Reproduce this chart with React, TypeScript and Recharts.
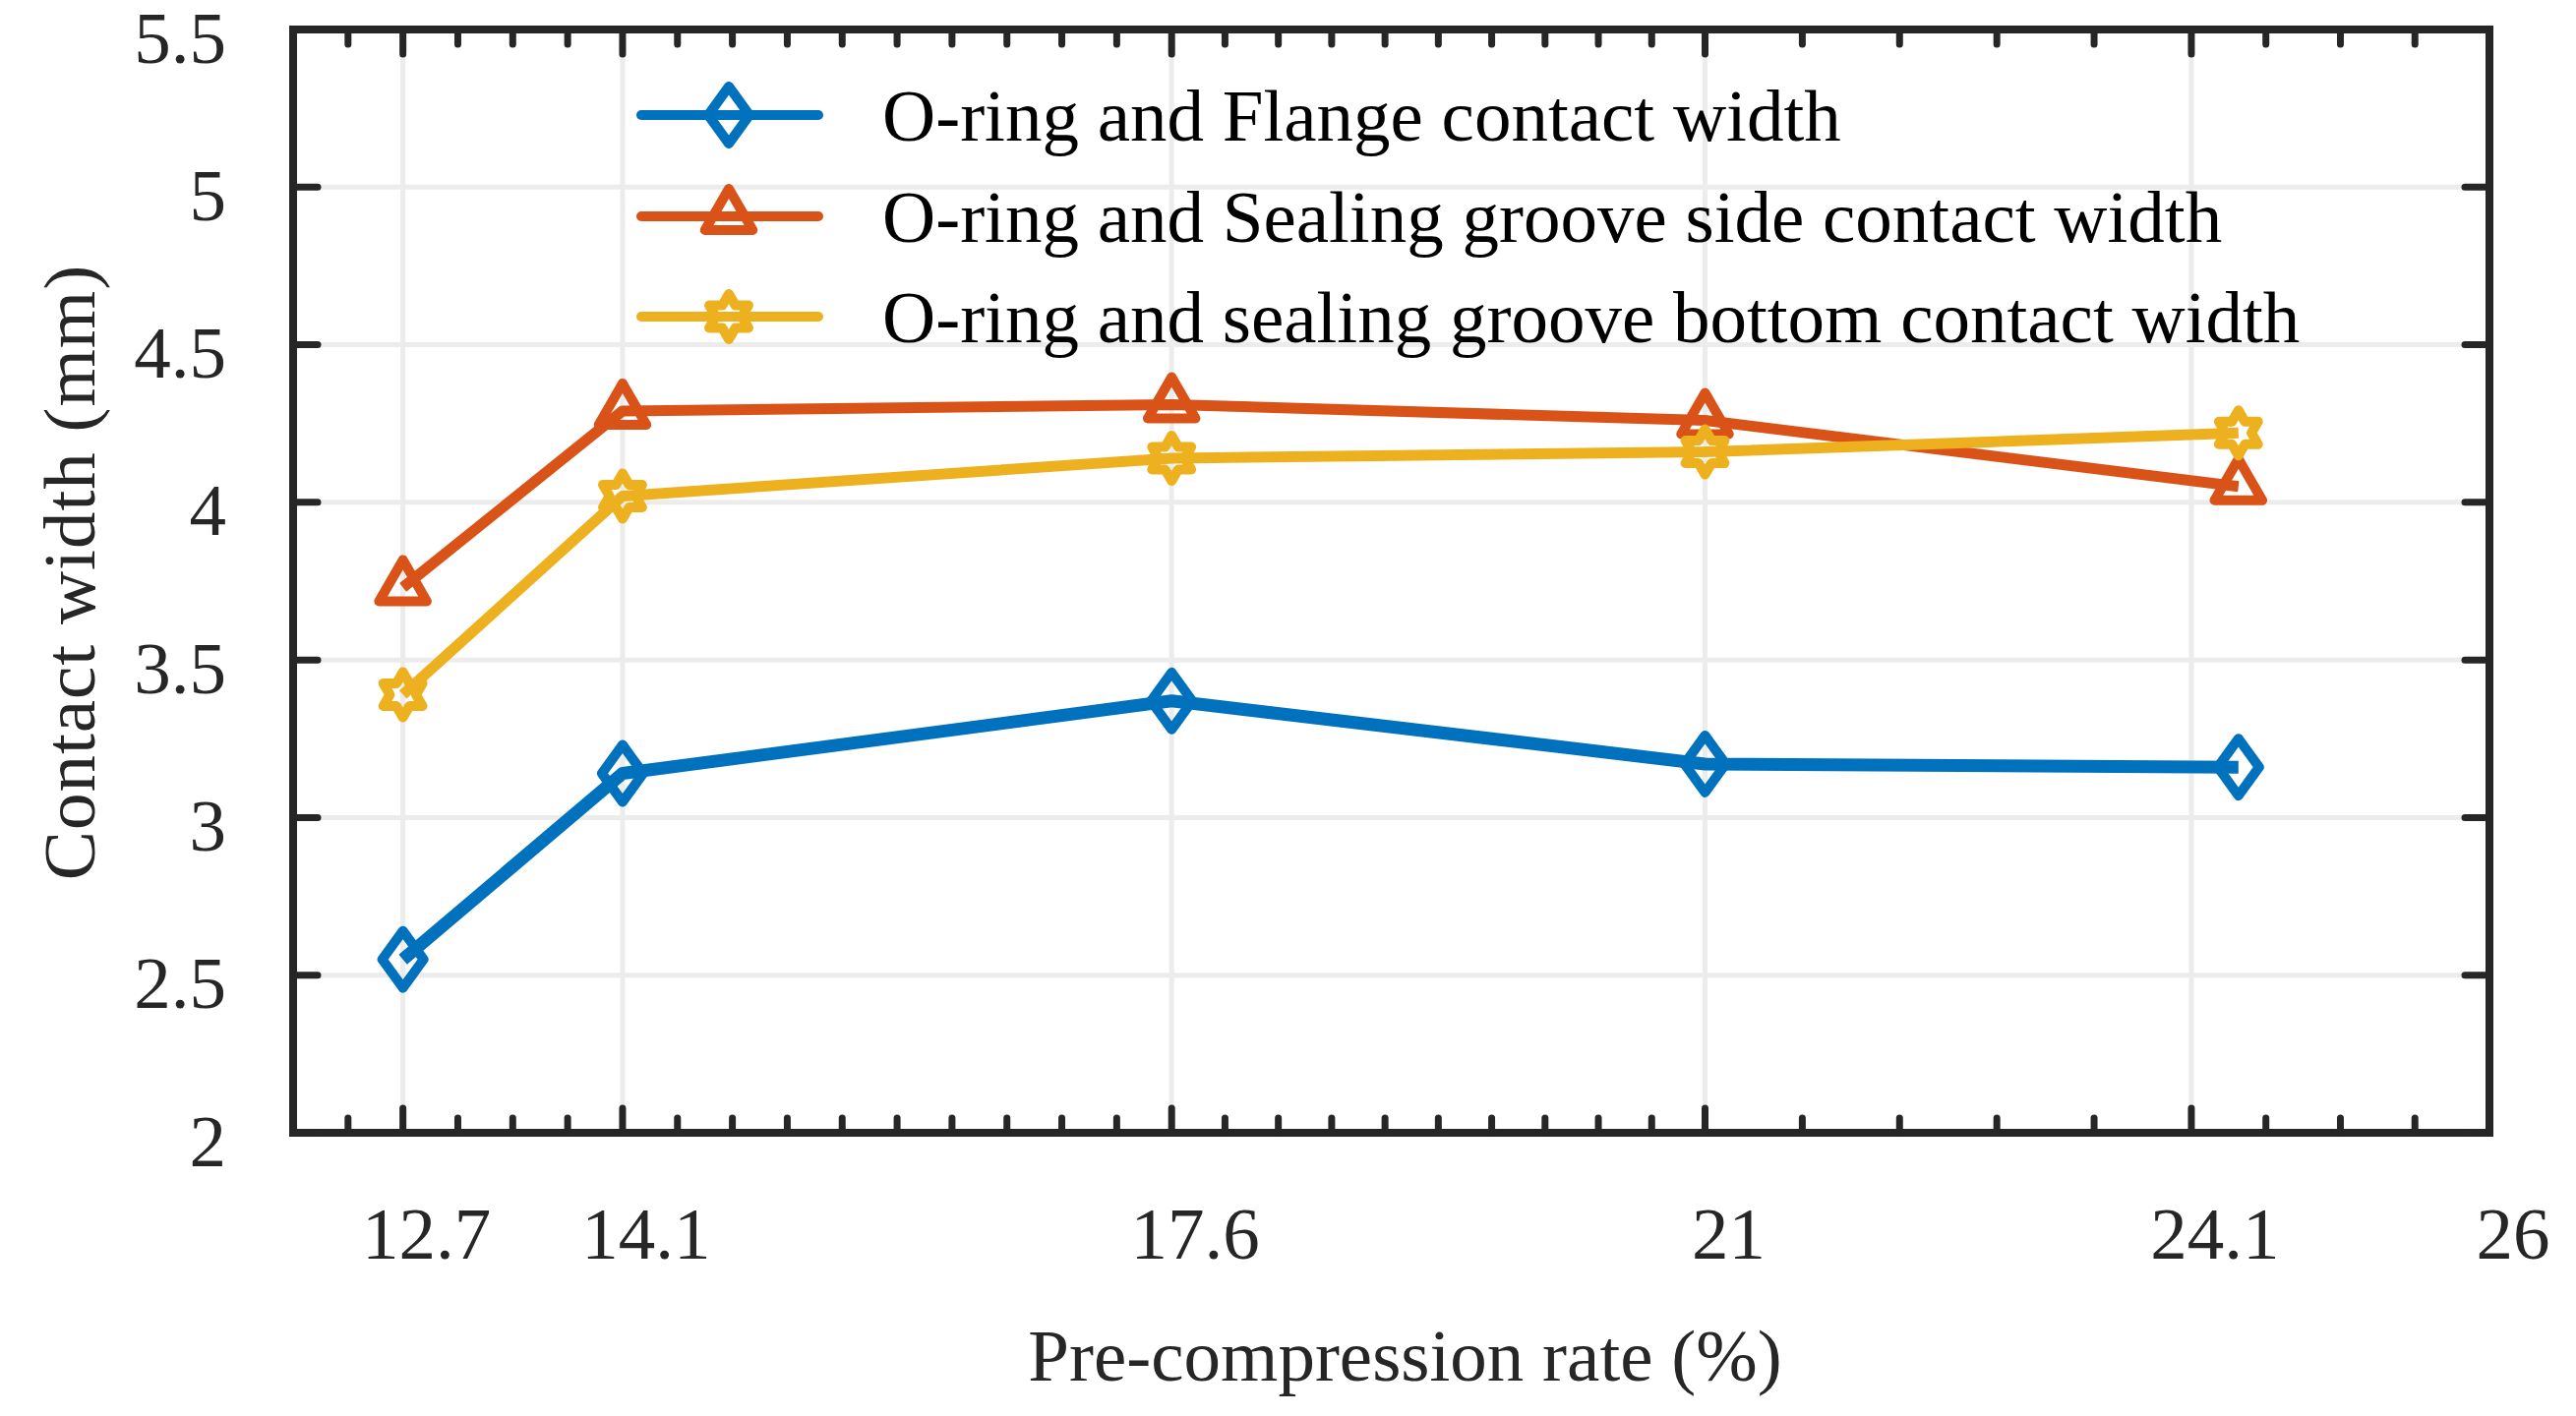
import React from 'react';
import {
  CartesianGrid,
  Line,
  LineChart,
  ReferenceArea,
  XAxis,
  YAxis,
} from 'recharts';

// measured values (contact width, mm) at each pre-compression rate
const RATES = [12.7, 14.1, 17.6, 21, 24.4];
const FLANGE_WIDTH = [2.55, 3.14, 3.37, 3.17, 3.16];
const SIDE_WIDTH = [3.73, 4.29, 4.31, 4.26, 4.05];
const BOTTOM_WIDTH = [3.39, 4.02, 4.14, 4.16, 4.22];

const SERIES_NAMES = [
  'O-ring and Flange contact width',
  'O-ring and Sealing groove side contact width',
  'O-ring and sealing groove bottom contact width',
];

// axis ticks
const X_MAJOR = [12.7, 14.1, 17.6, 21, 24.1, 26];
const X_LABELS = ['12.7', '14.1', '17.6', '21', '24.1', '26'];
// [from, to, number of minor intervals]
const X_SEGMENTS: [number, number, number][] = [
  [12, 12.7, 2],
  [12.7, 14.1, 4],
  [14.1, 17.6, 10],
  [17.6, 21, 10],
  [21, 24.1, 5],
  [24.1, 26, 4],
];
const Y_TICKS = [2, 2.5, 3, 3.5, 4, 4.5, 5, 5.5];

const X_DOMAIN: [number, number] = [12, 26];
const Y_DOMAIN: [number, number] = [2, 5.5];

const BLUE = '#0072BD';
const ORANGE = '#D95319';
const YELLOW = '#EDB120';
const AXIS = '#262626';
const GRID = '#ececec';
const FONT = '"Liberation Serif", "Times New Roman", serif';
const FS = 75;

const W = 2619;
const H = 1440;

const minorTicks: number[] = [];
X_SEGMENTS.forEach(([a, b, n]) => {
  for (let i = 1; i < n; i++) minorTicks.push(+(a + ((b - a) * i) / n).toFixed(4));
});
const ALL_X_TICKS = [...X_MAJOR, ...minorTicks].sort((p, q) => p - q);

const toRows = (ys: number[]) => RATES.map((x, i) => ({ x, y: ys[i] }));
const flangeData = toRows(FLANGE_WIDTH);
const sideData = toRows(SIDE_WIDTH);
const bottomData = toRows(BOTTOM_WIDTH);

const MARK_W = 10;

// marker shapes, centred on (cx, cy)
function Diamond({ cx, cy, color }: { cx: number; cy: number; color: string }) {
  return (
    <path
      d={`M${cx},${cy - 29} L${cx + 21},${cy} L${cx},${cy + 29} L${cx - 21},${cy} Z`}
      fill="none"
      stroke={color}
      strokeWidth={MARK_W}
      strokeLinejoin="round"
    />
  );
}

function Triangle({ cx, cy, color }: { cx: number; cy: number; color: string }) {
  const r = 28;
  const hx = r * 0.866;
  return (
    <path
      d={`M${cx},${cy - r} L${cx + hx},${cy + r / 2} L${cx - hx},${cy + r / 2} Z`}
      fill="none"
      stroke={color}
      strokeWidth={MARK_W}
      strokeLinejoin="round"
    />
  );
}

function Hexagram({ cx, cy, color }: { cx: number; cy: number; color: string }) {
  const R = 23;
  const r = R / Math.sqrt(3);
  const pts: string[] = [];
  for (let i = 0; i < 12; i++) {
    const a = -Math.PI / 2 + (i * Math.PI) / 6;
    const rad = i % 2 === 0 ? R : r;
    pts.push(`${(cx + rad * Math.cos(a)).toFixed(2)},${(cy + rad * Math.sin(a)).toFixed(2)}`);
  }
  return (
    <polygon points={pts.join(' ')} fill="none" stroke={color} strokeWidth={MARK_W} strokeLinejoin="round" />
  );
}

const MARKERS = [Diamond, Triangle, Hexagram];
const COLORS = [BLUE, ORANGE, YELLOW];

const isMajor = (v: number) => X_MAJOR.some((m) => Math.abs(m - v) < 1e-6);

function BottomTick(props: any) {
  const { x, y, payload } = props;
  const v = payload.value;
  const major = isMajor(v);
  const idx = X_MAJOR.findIndex((m) => Math.abs(m - v) < 1e-6);
  return (
    <g>
      <line x1={x} x2={x} y1={y} y2={y - (major ? 25 : 15)} stroke={AXIS} strokeWidth={7} strokeLinecap="round" />
      {major && (
        <text
          x={x + 24}
          y={y + 102}
          textAnchor="middle"
          dominantBaseline="central"
          fontFamily={FONT}
          fontSize={FS}
          fill={AXIS}
        >
          {X_LABELS[idx]}
        </text>
      )}
    </g>
  );
}

function TopTick(props: any) {
  const { x, y, payload } = props;
  const major = isMajor(payload.value);
  return (
    <line x1={x} x2={x} y1={y} y2={y + (major ? 25 : 15)} stroke={AXIS} strokeWidth={7} strokeLinecap="round" />
  );
}

function LeftTick(props: any) {
  const { x, y, payload } = props;
  return (
    <g>
      <line x1={x} x2={x + 25} y1={y} y2={y} stroke={AXIS} strokeWidth={7} strokeLinecap="round" />
      <text
        x={x - 68}
        y={y + 8}
        textAnchor="end"
        dominantBaseline="central"
        fontFamily={FONT}
        fontSize={FS}
        fill={AXIS}
      >
        {payload.value}
      </text>
    </g>
  );
}

function RightTick(props: any) {
  const { x, y } = props;
  return <line x1={x} x2={x - 25} y1={y} y2={y} stroke={AXIS} strokeWidth={7} strokeLinecap="round" />;
}

function Legend() {
  const rows = [117, 220, 322];
  return (
    <svg width={W} height={H} style={{ position: 'absolute', left: 0, top: 0, pointerEvents: 'none' }}>
      {SERIES_NAMES.map((name, i) => {
        const M = MARKERS[i];
        const cy = rows[i];
        return (
          <g key={name}>
            <line x1={652} x2={832} y1={cy} y2={cy} stroke={COLORS[i]} strokeWidth={10} strokeLinecap="round" />
            <M cx={741} cy={cy} color={COLORS[i]} />
            <text x={897} y={cy} dominantBaseline="central" fontFamily={FONT} fontSize={FS} fill="#000">
              {name}
            </text>
          </g>
        );
      })}
    </svg>
  );
}

const makeDot = (i: number) => (p: any) => {
  const M = MARKERS[i];
  return <M key={`d-${i}-${p.index}`} cx={p.cx} cy={p.cy} color={COLORS[i]} />;
};

export default function App() {
  const series = [flangeData, sideData, bottomData];
  return (
    <div style={{ position: 'absolute', left: 0, top: 0, width: W, height: H, background: '#fff' }}>
      <LineChart width={W} height={H} margin={{ top: 20, right: 78, bottom: 0, left: 0 }}>
        {/* hidden axis that carries only the major ticks for the grid */}
        <XAxis xAxisId="grid" hide type="number" dataKey="x" domain={X_DOMAIN} ticks={X_MAJOR} allowDataOverflow />
        <CartesianGrid xAxisId="grid" yAxisId={0} stroke={GRID} strokeWidth={5} />
        <XAxis
          xAxisId={0}
          type="number"
          dataKey="x"
          domain={X_DOMAIN}
          ticks={ALL_X_TICKS}
          interval={0}
          height={288}
          axisLine={false}
          tickLine={false}
          tickSize={0}
          tickMargin={0}
          tick={(p: any) => <BottomTick {...p} />}
          allowDataOverflow
          label={(p: any) => {
            const vb = p?.viewBox ?? { x: 298, y: 1152, width: 2233, height: 288 };
            return (
              <text
                x={vb.x + vb.width / 2 + 14}
                y={vb.y + 226}
                textAnchor="middle"
                dominantBaseline="central"
                fontFamily={FONT}
                fontSize={FS}
                fill={AXIS}
              >
                Pre-compression rate (%)
              </text>
            );
          }}
        />
        <XAxis
          xAxisId="top"
          orientation="top"
          type="number"
          dataKey="x"
          domain={X_DOMAIN}
          ticks={ALL_X_TICKS}
          interval={0}
          height={10}
          axisLine={false}
          tickLine={false}
          tickSize={0}
          tickMargin={0}
          tick={(p: any) => <TopTick {...p} />}
          allowDataOverflow
        />
        <YAxis
          yAxisId={0}
          type="number"
          domain={Y_DOMAIN}
          ticks={Y_TICKS}
          interval={0}
          width={298}
          axisLine={false}
          tickLine={false}
          tickSize={0}
          tickMargin={0}
          tick={(p: any) => <LeftTick {...p} />}
          allowDataOverflow
          label={(p: any) => {
            const vb = p?.viewBox ?? { x: 0, y: 30, width: 298, height: 1122 };
            const cx = vb.x + 70;
            const cy = vb.y + vb.height / 2 - 9;
            return (
              <text
                x={cx}
                y={cy}
                transform={`rotate(-90 ${cx} ${cy})`}
                textAnchor="middle"
                dominantBaseline="central"
                fontFamily={FONT}
                fontSize={FS}
                fill={AXIS}
                letterSpacing={1}
              >
                Contact width (mm)
              </text>
            );
          }}
        />
        <YAxis
          yAxisId="right"
          orientation="right"
          type="number"
          domain={Y_DOMAIN}
          ticks={Y_TICKS}
          interval={0}
          width={10}
          axisLine={false}
          tickLine={false}
          tickSize={0}
          tickMargin={0}
          tick={(p: any) => <RightTick {...p} />}
          allowDataOverflow
        />
        <ReferenceArea
          x1={X_DOMAIN[0]}
          x2={X_DOMAIN[1]}
          y1={Y_DOMAIN[0]}
          y2={Y_DOMAIN[1]}
          fill="none"
          fillOpacity={0}
          stroke={AXIS}
          strokeWidth={8}
          ifOverflow="visible"
        />
        {series.map((data, i) => (
          <Line
            key={SERIES_NAMES[i]}
            data={data}
            dataKey="y"
            name={SERIES_NAMES[i]}
            type="linear"
            stroke={COLORS[i]}
            strokeWidth={i === 0 ? 13 : 11}
            strokeLinejoin="round"
            dot={makeDot(i)}
            activeDot={false}
            isAnimationActive={false}
          />
        ))}
      </LineChart>
      <Legend />
    </div>
  );
}
